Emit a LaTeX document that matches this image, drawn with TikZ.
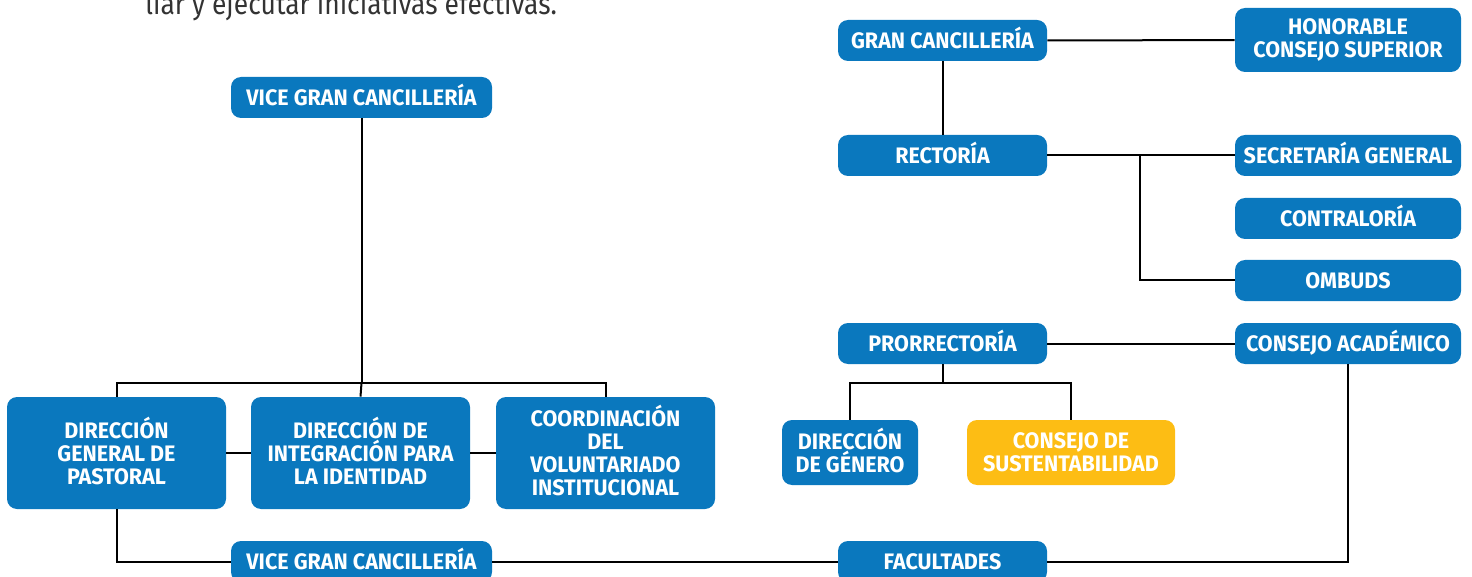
\documentclass[tikz,border=0pt]{standalone}
\usepackage{fontspec}
\setmainfont{Fira Sans}
\newfontfamily\boxface[FakeStretch=0.96]{Fira Sans}
\newfontfamily\introface[FakeStretch=0.88]{Fira Sans}
\definecolor{ublue}{HTML}{0A78BE}
\definecolor{uyellow}{HTML}{FDBD14}
\definecolor{introgray}{HTML}{333333}
\newcommand\boxfont{\boxface\fontsize{11.2}{11.5}\selectfont\bfseries}
\tikzset{
  box/.style={fill=ublue, rounded corners=5pt, text=white, font=\boxfont, align=center, inner sep=0pt},
  ybox/.style={box, fill=uyellow},
  one/.style={text height=7.7pt, text depth=0pt},
  acc/.style={text depth=2.6pt},
  wide/.style={one, minimum width=130.5pt, minimum height=20.5pt},
  big/.style={minimum width=109.5pt, minimum height=56pt},
  mid/.style={one, minimum width=104.5pt, minimum height=20.5pt},
  right/.style={one, minimum width=113pt, minimum height=20.5pt},
  conn/.style={draw=black, line width=1pt}
}
\begin{document}
\begin{tikzpicture}[x=0.5pt, y=-0.5pt]
\useasboundingbox (0,0) rectangle (1472,577);
\node[anchor=base west, inner sep=0pt, text=introgray, font=\introface\fontsize{15}{17}\selectfont] (intro) at (145,14.5) {liar y ejecutar iniciativas efectivas.};
% left cluster
\node[box, wide] (vg1) at (361.5,97.5) {VICE GRAN CANCILLERÍA};
\node[box, big, acc] (dgp) at (116.5,453) {DIRECCIÓN\\GENERAL DE\\PASTORAL};
\node[box, big, acc] (dipi) at (360.5,453) {DIRECCIÓN DE\\INTEGRACIÓN PARA\\LA IDENTIDAD};
\node[box, big, acc] (cvi) at (605.5,453) {COORDINACIÓN\\DEL\\VOLUNTARIADO\\INSTITUCIONAL};
\node[box, wide] (vg2) at (361.5,561.5) {VICE GRAN CANCILLERÍA};
% right cluster
\node[box, mid] (gc) at (942.5,40.5) {GRAN CANCILLERÍA};
\node[box, minimum width=113pt, minimum height=32pt] (hcs) at (1348,40) {HONORABLE\\CONSEJO SUPERIOR};
\node[box, mid] (rec) at (942.5,155.5) {RECTORÍA};
\node[box, right] (sg) at (1348,155.5) {SECRETARÍA GENERAL};
\node[box, right] (con) at (1348,218.5) {CONTRALORÍA};
\node[box, right] (omb) at (1348,280.5) {OMBUDS};
\node[box, mid] (pro) at (942.5,343.5) {PRORRECTORÍA};
\node[box, right] (ca) at (1348,343.5) {CONSEJO ACADÉMICO};
\node[box, acc, minimum width=68pt, minimum height=32.5pt] (dg) at (850,452.5) {DIRECCIÓN\\DE GÉNERO};
\node[ybox, minimum width=104pt, minimum height=32.5pt] (cds) at (1071,452.5) {CONSEJO DE\\SUSTENTABILIDAD};
\node[box, mid] (fac) at (942.5,561.5) {FACULTADES};
% junctions
\coordinate (j1) at (361.5,383);
\coordinate (j2) at (942.5,383);
\coordinate (j3) at (1140,155.5);
% connectors
\draw[conn] (vg1) -- (j1);
\draw[conn] (dgp.north) |- (j1) -| (cvi.north);
\draw[conn] (j1) -- (dipi.north);
\draw[conn] (dgp) -- (dipi);
\draw[conn] (dipi) -- (cvi);
\draw[conn] (dgp.south) |- (vg2.west);
\draw[conn] (vg2) -- (fac);
\draw[conn] (fac.east) -| (ca.south);
\draw[conn] (pro) -- (ca);
\draw[conn] (pro) -- (j2);
\draw[conn] (dg.north) |- (j2) -| (cds.north);
\draw[conn] (gc) -- (hcs);
\draw[conn] (gc) -- (rec);
\draw[conn] (rec) -- (sg);
\draw[conn] (j3) |- (omb.west);
\end{tikzpicture}
\end{document}
